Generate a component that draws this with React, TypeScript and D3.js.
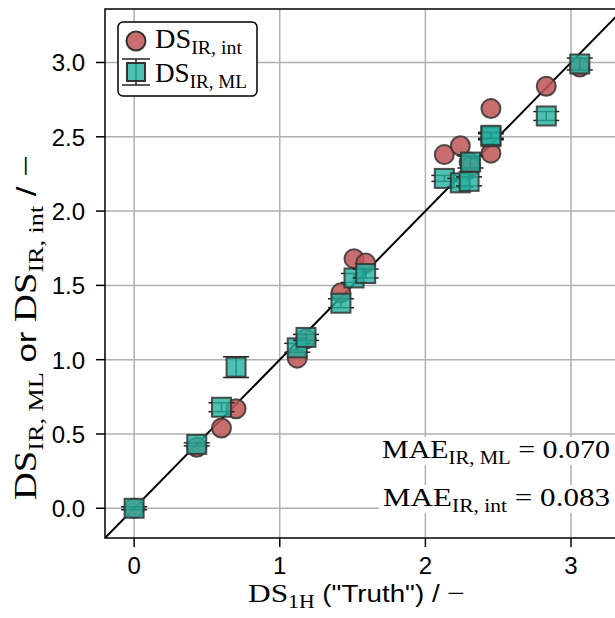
import * as d3 from "d3";

// truth values (1H NMR) and the two IR estimates
const truth = [0, 0.43, 0.6, 0.7, 1.12, 1.18, 1.42, 1.51, 1.59, 2.13, 2.24, 2.3, 2.31, 2.45, 2.45, 2.83, 3.06];
const dsMl = [0.0, 0.43, 0.68, 0.95, 1.08, 1.15, 1.38, 1.55, 1.58, 2.22, 2.19, 2.2, 2.33, 2.5, 2.51, 2.64, 2.99];
const dsMlErr = [0.01, 0.01, 0.03, 0.07, 0.03, 0.02, 0.03, 0.03, 0.03, 0.02, 0.03, 0.03, 0.04, 0.02, 0.02, 0.03, 0.04];
const dsInt = [0.0, 0.41, 0.54, 0.67, 1.01, 1.14, 1.45, 1.68, 1.65, 2.38, 2.44, 2.33, 2.3, 2.39, 2.69, 2.84, 2.97];

const xTicks = [0, 1, 2, 3];
const yTicks = [0, 0.5, 1, 1.5, 2, 2.5, 3];
const maeMl = "0.070";
const maeInt = "0.083";

const serif = "'Liberation Serif', 'DejaVu Serif', serif";
const sans = "'Liberation Sans', Arial, sans-serif";
const redFill = "#c05555";
const tealFill = "#22b2a0";
const edge = "#333";

export default function App() {
  const width = 615;
  const height = 618;
  const margin = { top: 9, right: -7, bottom: 80, left: 105 };

  const x = d3.scaleLinear().domain([-0.2, 3.35]).range([margin.left, width - margin.right]);
  const y = d3.scaleLinear().domain([-0.2, 3.36]).range([height - margin.bottom, margin.top]);

  const [x0, x1] = x.range();
  const [y0, y1] = y.range();
  const sq = 19;
  const capHalf = 13;

  return (
    <svg width={width} height={height} style={{ display: "block", position: "absolute", left: 0, top: 0 }}>
      <defs>
        <clipPath id="plot">
          <rect x={x0} y={y1} width={x1 - x0} height={y0 - y1} />
        </clipPath>
      </defs>
      <rect width={width} height={height} fill="white" />

      {/* grid */}
      <g stroke="#b0b0b0" strokeWidth={1.5}>
        {xTicks.map((t) => (
          <line key={"gx" + t} x1={x(t)} x2={x(t)} y1={y1} y2={y0} />
        ))}
        {yTicks.map((t) => (
          <line key={"gy" + t} x1={x0} x2={x1} y1={y(t)} y2={y(t)} />
        ))}
      </g>

      {/* MAE labels, white boxes hide the grid behind them */}
      <g fontFamily={serif}>
        <rect x={379} y={437} width={240} height={28} fill="white" />
        <rect x={379} y={485} width={240} height={28} fill="white" />
        <text x={382} y={458} fontSize={26} textLength={228} lengthAdjust="spacingAndGlyphs">
          MAE<tspan dy={6} fontSize={18}>IR, ML</tspan>
          <tspan dy={-6}> = {maeMl}</tspan>
        </text>
        <text x={383} y={506} fontSize={26} textLength={227} lengthAdjust="spacingAndGlyphs">
          MAE<tspan dy={6} fontSize={18}>IR, int</tspan>
          <tspan dy={-6}> = {maeInt}</tspan>
        </text>
      </g>

      <g clipPath="url(#plot)">
        {/* parity line */}
        <line x1={x(-0.2)} y1={y(-0.2)} x2={x(3.4)} y2={y(3.4)} stroke="black" strokeWidth={2} />

        {/* integration based */}
        {truth.map((t, i) => (
          <circle
            key={"c" + i}
            cx={x(t)}
            cy={y(dsInt[i])}
            r={9.5}
            fill={redFill}
            fillOpacity={0.85}
            stroke={edge}
            strokeOpacity={0.85}
            strokeWidth={2}
          />
        ))}

        {/* ML based with error bars */}
        {truth.map((t, i) => {
          const cx = x(t);
          const top = y(dsMl[i] + dsMlErr[i]);
          const bot = y(dsMl[i] - dsMlErr[i]);
          return (
            <g key={"s" + i}>
              <line x1={cx} x2={cx} y1={top} y2={bot} stroke="#222" strokeWidth={1.5} />
              <line x1={cx - capHalf} x2={cx + capHalf} y1={top} y2={top} stroke="#222" strokeWidth={1.5} />
              <line x1={cx - capHalf} x2={cx + capHalf} y1={bot} y2={bot} stroke="#222" strokeWidth={1.5} />
              <rect
                x={cx - sq / 2}
                y={y(dsMl[i]) - sq / 2}
                width={sq}
                height={sq}
                fill={tealFill}
                fillOpacity={0.8}
                stroke={edge}
                strokeOpacity={0.85}
                strokeWidth={2}
              />
            </g>
          );
        })}
      </g>

      {/* frame */}
      <rect x={x0} y={y1} width={x1 - x0} height={y0 - y1} fill="none" stroke="black" strokeWidth={1.5} />

      {/* axes */}
      <g fontFamily={sans} fontSize={24} fill="black">
        {xTicks.map((t) => (
          <g key={"tx" + t}>
            <line x1={x(t)} x2={x(t)} y1={y0} y2={y0 + 9} stroke="black" strokeWidth={1.5} />
            <text x={x(t)} y={y0 + 36} textAnchor="middle">
              {t}
            </text>
          </g>
        ))}
        {yTicks.map((t) => (
          <g key={"ty" + t}>
            <line x1={x0 - 9} x2={x0} y1={y(t)} y2={y(t)} stroke="black" strokeWidth={1.5} />
            <text x={x0 - 20} y={y(t) + 9} textAnchor="end">
              {d3.format(".1f")(t)}
            </text>
          </g>
        ))}
      </g>

      {/* axis titles */}
      <text x={248} y={602} fontFamily={serif} fontSize={26} textLength={217} lengthAdjust="spacingAndGlyphs">
        DS<tspan dy={6} fontSize={18}>1H</tspan>
        <tspan dy={-6} fontFamily={sans} fontSize={23}> ("Truth") / </tspan>
        <tspan>−</tspan>
      </text>
      <text
        transform="translate(36,500) rotate(-90)"
        fontFamily={serif}
        fontSize={31}
        textLength={345}
        lengthAdjust="spacingAndGlyphs"
      >
        DS<tspan dy={7} fontSize={21}>IR, ML</tspan>
        <tspan dy={-7} fontFamily={sans} fontSize={28}> or </tspan>
        <tspan>DS</tspan>
        <tspan dy={7} fontSize={21}>IR, int</tspan>
        <tspan dy={-7} fontFamily={sans} fontSize={28}> / </tspan>
        <tspan>−</tspan>
      </text>

      {/* legend */}
      <g>
        <rect x={118} y={22} width={139} height={74} rx={5} fill="white" stroke="black" strokeWidth={1.5} />
        <circle cx={136} cy={41} r={9.5} fill={redFill} fillOpacity={0.85} stroke={edge} strokeWidth={2} />
        <line x1={136} x2={136} y1={59} y2={85} stroke="#222" strokeWidth={1.5} />
        <line x1={122} x2={150} y1={59} y2={59} stroke="#222" strokeWidth={1.5} />
        <line x1={122} x2={150} y1={85} y2={85} stroke="#222" strokeWidth={1.5} />
        <rect x={127} y={63} width={18} height={18} fill={tealFill} fillOpacity={0.8} stroke={edge} strokeWidth={2} />
        <text x={155} y={48} fontFamily={serif} fontSize={27} textLength={87} lengthAdjust="spacingAndGlyphs">
          DS<tspan dy={6} fontSize={19}>IR, int</tspan>
        </text>
        <text x={155} y={82} fontFamily={serif} fontSize={27} textLength={92} lengthAdjust="spacingAndGlyphs">
          DS<tspan dy={6} fontSize={19}>IR, ML</tspan>
        </text>
      </g>
    </svg>
  );
}
